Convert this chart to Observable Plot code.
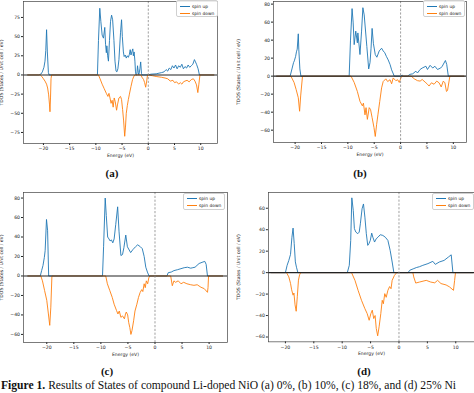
<!DOCTYPE html>
<html>
<head>
<meta charset="utf-8">
<script src="https://cdn.jsdelivr.net/npm/d3@7"></script>
<script src="https://cdn.jsdelivr.net/npm/@observablehq/plot@0.6"></script>
<style>
  body { margin: 0; background: #fff; }
  #fig { position: relative; width: 474px; height: 393px; overflow: hidden; background: #fff; }
  .panel { position: absolute; }
  .plab { position: absolute; font-family: "Liberation Serif", "DejaVu Serif", serif; font-weight: bold; font-size: 11px; color: #111; transform: translateX(-50%); }
  .leg { position: absolute; border: 0.6px solid #d0d0d0; border-radius: 2px; background: rgba(255,255,255,0.85); font-family: "DejaVu Sans", sans-serif; font-size: 4.4px; color: #222; }
  .leg div { position: absolute; white-space: nowrap; line-height: 5px; }
  .leg span.sw { position: absolute; height: 1.1px; width: 10px; }
  #cap { position: absolute; left: 1px; top: 379px; white-space: nowrap; font-family: "Liberation Serif", "DejaVu Serif", serif; font-size: 11.6px; line-height: 13px; color: #111; }
</style>
</head>
<body>
<div id="fig"></div>
<script>
// ---------- data (energy eV, TDOS) ----------
const xTicks = [-20, -15, -10, -5, 0, 5, 10];
const yTicksA = [-75, -50, -25, 0, 25, 50, 75];
const yTicksB = [-60, -40, -20, 0, 20, 40, 60, 80];
const yTicksC = [-60, -40, -20, 0, 20, 40, 60, 80];
const yTicksD = [-60, -40, -20, 0, 20, 40, 60];
const seriesNames = ["spin up", "spin down"];
const panelLabels = ["(a)", "(b)", "(c)", "(d)"];

const aUp = [[-23,0],[-20.9,0],[-20.5,1],[-20.2,4],[-19.9,10],[-19.7,18],[-19.55,32],[-19.4,59],[-19.25,30],[-19.05,3],[-18.9,0],
 [-9.7,0],[-9.5,45],[-9.25,87],[-9.05,70],[-8.8,52],[-8.55,48],[-8.3,62],[-8.15,40],[-8.0,29],[-7.9,38],[-7.75,25],[-7.6,18],[-7.4,45],[-7.2,70],[-7.0,78],[-6.8,72],[-6.55,45],[-6.35,18],[-6.15,5],[-6.0,4],[-5.8,8],[-5.6,20],[-5.3,55],[-5.1,72],[-4.95,50],[-4.75,30],[-4.6,24],[-4.4,26],[-4.2,22],[-4.0,25],[-3.8,23],[-3.6,27],[-3.45,33],[-3.3,26],[-3.1,31],[-2.95,34],[-2.85,25],[-2.7,30],[-2.55,18],[-2.45,5],[-2.35,0],[-2.2,0],[-2.05,12],[-1.9,3],[-1.8,0],[-1.6,8],[-1.45,17],[-1.3,2],[-1.2,0],
 [0,0],[0.5,1],[1.5,1.5],[2.5,3],[3.0,4],[3.4,7],[3.7,5],[4.0,9],[4.3,7],[4.6,12],[4.9,9],[5.2,13],[5.5,8],[5.8,12],[6.1,10],[6.4,14],[6.7,8],[7.0,11],[7.3,9],[7.6,13],[7.9,10],[8.2,12],[8.5,14],[8.8,20],[9.0,17],[9.2,14],[9.5,8],[9.75,0],[12.5,0]];
const aDn = [[-23,0],[-20.6,0],[-20.3,-2],[-20.0,-5],[-19.7,-8],[-19.4,-12],[-19.2,-17],[-19.0,-26],[-18.85,-38],[-18.75,-48],[-18.65,-30],[-18.55,-5],[-18.45,0],
 [-9.5,0],[-9.2,-5],[-8.8,-12],[-8.4,-18],[-8.0,-24],[-7.7,-28],[-7.5,-24],[-7.3,-30],[-7.1,-37],[-6.9,-33],[-6.7,-42],[-6.5,-30],[-6.3,-35],[-6.05,-46],[-5.85,-38],[-5.6,-30],[-5.3,-28],[-5.1,-32],[-4.9,-45],[-4.7,-60],[-4.5,-80],[-4.35,-68],[-4.2,-50],[-4.0,-40],[-3.8,-32],[-3.6,-25],[-3.3,-15],[-3.0,-6],[-2.7,-1],[-2.5,0],[-1.4,0],[-1.2,-3],[-0.9,-6],[-0.7,-10],[-0.5,-16],[-0.3,-8],[-0.15,0],
 [0,0],[0.8,-1],[1.5,-2],[2.5,-3],[3.2,-4],[3.7,-5],[4.2,-8],[4.7,-7],[5.0,-10],[5.4,-9],[5.8,-12],[6.1,-10],[6.4,-12],[6.7,-9],[7.0,-8],[7.4,-7],[7.8,-9],[8.2,-6],[8.6,-5],[8.9,-8],[9.2,-13],[9.45,-23],[9.65,-12],[9.85,0],[12.5,0]];

const bUp = [[-23.5,0],[-20.95,0],[-20.6,8],[-20.3,15],[-20.15,17],[-19.9,22],[-19.75,27],[-19.6,30],[-19.4,47],[-19.3,30],[-19.1,8],[-18.9,0],
 [-9.75,0],[-9.5,40],[-9.2,75],[-9.0,60],[-8.8,35],[-8.5,50],[-8.2,37],[-8.1,48],[-7.7,24],[-7.4,50],[-7.15,76],[-6.9,68],[-6.4,33],[-6.05,8],[-5.8,15],[-5.6,31],[-5.4,53],[-5.15,36],[-4.8,24],[-4.5,21],[-4.05,28],[-3.6,31],[-3.3,28],[-3.0,26],[-2.7,22],[-2.35,18],[-2.0,13],[-1.7,7],[-1.2,0],
 [0,0],[0.3,1],[0.6,0],[1.3,0],[1.8,2],[2.3,2.6],[2.9,5.5],[3.2,3.5],[3.7,7.4],[4.1,9],[4.8,11],[5.1,7.4],[5.6,12],[6.1,9],[6.5,11],[7.0,7.4],[7.6,9],[7.9,11],[8.5,17.4],[8.75,13],[9.05,0],[12,0]];
const bDn = [[-23.5,0],[-20.8,0],[-20.2,-7],[-19.8,-15],[-19.4,-24],[-19.15,-39],[-18.95,-22],[-18.6,0],
 [-9.4,0],[-8.8,-7],[-8.2,-17],[-7.7,-28],[-7.25,-33],[-7.05,-30],[-6.75,-43],[-6.55,-35],[-6.3,-48],[-5.95,-35],[-5.7,-37],[-5.4,-46],[-5.05,-57],[-4.8,-67],[-4.55,-54],[-4.3,-43],[-3.95,-28],[-3.6,-13],[-3.3,-6],[-2.8,-3],[-2.45,-6],[-2.0,-4],[-1.7,-8.5],[-1.4,-2],[-0.9,-5],[-0.55,-4],[-0.25,-7],[0.05,-2],[0.3,0],
 [2.0,0],[2.6,-3],[3.2,-5],[3.7,-5.5],[4.1,-3.7],[4.8,-7.4],[5.1,-9],[5.4,-11],[5.85,-7.4],[6.35,-9],[6.85,-5.5],[7.3,-7.4],[7.7,-12],[8.1,-5.5],[8.4,-7.4],[8.7,-17],[8.9,-16],[9.35,0],[12,0]];

const cUp = [[-23.5,0],[-21.2,0],[-20.95,5.5],[-20.7,10.7],[-20.45,19],[-20.3,26],[-20.05,58],[-19.85,47],[-19.65,0],
 [-9.7,0],[-9.5,30],[-9.2,80],[-9.0,62],[-8.75,40],[-8.5,38],[-8.3,36],[-8.05,37],[-7.8,34],[-7.55,38],[-7.25,53],[-6.9,71],[-6.65,46],[-6.3,21],[-6.0,22],[-5.75,29],[-5.4,42],[-5.1,30],[-4.5,24],[-4.1,27],[-3.6,30],[-3.2,32],[-2.7,30],[-2.35,28],[-2.0,20],[-1.7,9],[-1.4,4],[-1.1,0],
 [2.2,0],[2.45,3.4],[3.0,4],[3.5,5.5],[4.2,6.5],[4.8,7.5],[5.4,8.5],[6.0,9],[6.6,8],[7.0,8.5],[7.4,9],[8.15,12.8],[8.7,14],[9.2,15],[9.45,12],[9.7,0],[12.5,0]];
const cDn = [[-23.5,0],[-21.1,0],[-20.8,-5],[-20.4,-15],[-20.0,-25],[-19.7,-39],[-19.45,-50.7],[-19.25,-32],[-19.05,0],
 [-9.1,0],[-8.8,-8],[-8.35,-15],[-7.9,-22],[-7.55,-29],[-7.1,-35.6],[-6.85,-39],[-6.6,-36],[-6.3,-42.5],[-6.0,-41],[-5.65,-44],[-5.45,-39],[-5.3,-37],[-5.05,-40],[-4.85,-48],[-4.65,-53],[-4.45,-60],[-4.25,-56],[-3.95,-46],[-3.7,-36],[-3.35,-29],[-3.05,-22],[-2.75,-17],[-2.45,-14],[-2.25,-16],[-2.0,-8],[-1.8,-12],[-1.6,-5],[-1.35,-8],[-1.15,-2],[-0.95,0],
 [2.9,0],[3.2,-10],[3.5,-5],[3.8,-6.5],[4.3,-5],[4.8,-8],[5.3,-6.5],[5.9,-8],[6.6,-9],[7.2,-9.6],[7.8,-9],[8.5,-11.6],[9.1,-13],[9.7,-16.8],[9.8,-12],[9.9,0],[12.5,0]];

const dUp = [[-22.5,0],[-20.0,0],[-19.7,6.8],[-19.4,11.4],[-19.1,17],[-18.85,33],[-18.65,41.5],[-18.45,27],[-18.25,10],[-18.05,5],[-17.8,0],
 [-9.1,0],[-8.75,6.8],[-8.5,30],[-8.3,69.7],[-8.05,58],[-7.85,41],[-7.6,37.8],[-7.25,36.3],[-7.0,37.8],[-6.8,45.5],[-6.5,59.5],[-6.25,64],[-6.0,51.7],[-5.75,36.3],[-5.5,25.4],[-5.3,26.9],[-5.05,30],[-4.8,36.8],[-4.6,33],[-4.3,28.5],[-4.0,31.6],[-3.7,33],[-3.3,35.3],[-2.85,34.7],[-2.4,33],[-1.95,30],[-1.55,20.7],[-1.2,9.9],[-0.9,0],
 [1.6,0],[1.9,2.2],[2.5,3.5],[3.05,4.7],[3.6,5.5],[4.2,6.8],[5.1,8.4],[5.96,10.5],[6.4,7.7],[7.1,9.9],[7.95,11.4],[8.7,14.5],[9.2,16.6],[9.5,0],[13,0]];
const dDn = [[-22.5,0],[-19.8,0],[-19.4,-4],[-19.1,-10],[-18.9,-16],[-18.65,-21],[-18.5,-19],[-18.3,-30],[-18.1,-36],[-17.9,-22],[-17.7,-7],[-17.5,-2],[-17.3,0],
 [-8.35,0],[-7.75,-7.2],[-7.2,-16.5],[-6.6,-25.8],[-6.0,-33.6],[-5.6,-38.2],[-5.25,-44.4],[-4.95,-38.2],[-4.7,-35],[-4.45,-42.8],[-4.2,-40],[-4.0,-52],[-3.75,-58.9],[-3.5,-50.5],[-3.2,-38.2],[-2.95,-25.8],[-2.75,-29],[-2.5,-19.6],[-2.25,-23],[-1.95,-16.5],[-1.65,-13],[-1.4,-15],[-1.2,-7.2],[-0.8,-2.6],[-0.4,0],
 [2.45,0],[2.6,-4],[2.95,-9.7],[3.6,-8.8],[4.8,-7.2],[5.6,-8.8],[6.3,-9.5],[6.8,-7.2],[7.4,-10.2],[8.3,-11.5],[8.9,-13.3],[9.6,-16.5],[9.8,-7.2],[9.95,0],[13,0]];

const captionBold = "Figure 1.";
const captionText = " Results of States of compound Li-doped NiO (a) 0%, (b) 10%, (c) 18%, and (d) 25% Ni";

// ---------- layout ----------
const BLUE = "#1f77b4", ORANGE = "#ff7f0e";
const panels = [
  {up: aUp, dn: aDn, yt: yTicksA, left: 0,   top: 0,   width: 221, height: 166, ml: 23, mr: 4,  mt: 1, mb: 23, xd: [-23.8, 13.2], yd: [-89.4, 95.8], lab: [112, 167], leg: [176, 0]},
  {up: bUp, dn: bDn, yt: yTicksB, left: 237, top: 0,   width: 237, height: 166, ml: 36, mr: 8,  mt: 1, mb: 24, xd: [-24.1, 12.5], yd: [-73.7, 82.9], lab: [360, 167], leg: [423, 0]},
  {up: cUp, dn: cDn, yt: yTicksC, left: 0,   top: 186, width: 230, height: 176, ml: 23, mr: 3,  mt: 6, mb: 20, xd: [-24.3, 13.4], yd: [-68.3, 85.7], lab: [107, 365], leg: [183, 192.5]},
  {up: dUp, dn: dDn, yt: yTicksD, left: 237, top: 186, width: 238, height: 176, ml: 31, mr: 0,  mt: 6, mb: 20, xd: [-23.0, 13.3], yd: [-64.5, 74.7], lab: [364, 365], leg: [432, 192.5]}
];

const fig = document.getElementById("fig");

panels.forEach((p, i) => {
  const upRows = p.up.map(([e, v]) => ({e, v}));
  const dnRows = p.dn.map(([e, v]) => ({e, v}));
  const chart = Plot.plot({
    width: p.width, height: p.height,
    marginLeft: p.ml, marginRight: p.mr, marginTop: p.mt, marginBottom: p.mb,
    style: {fontFamily: "DejaVu Sans, sans-serif", fontSize: "4.6px", color: "#222", background: "transparent", overflow: "visible"},
    x: {domain: p.xd, ticks: xTicks, tickSize: 2, tickPadding: 1.5, label: "Energy (eV)", labelAnchor: "center", labelArrow: "none", labelOffset: 13},
    y: {domain: p.yd, ticks: p.yt, tickSize: 2, tickPadding: 1.5, label: "TDOS (States / Unit cell / eV)", labelAnchor: "center", labelArrow: "none", labelOffset: p.ml + 0.5},
    marks: [
      Plot.line(upRows, {x: "e", y: "v", stroke: BLUE, strokeWidth: 0.9}),
      Plot.line(dnRows, {x: "e", y: "v", stroke: ORANGE, strokeWidth: 0.9}),
      Plot.ruleY([0], {stroke: "#222", strokeWidth: 1.1}),
      Plot.ruleX([0], {stroke: "#888", strokeWidth: 0.8, strokeDasharray: "2.2,1.6"}),
      Plot.frame({stroke: "#444", strokeWidth: 0.7})
    ]
  });
  const wrap = document.createElement("div");
  wrap.className = "panel";
  wrap.style.left = p.left + "px";
  wrap.style.top = p.top + "px";
  wrap.appendChild(chart);
  fig.appendChild(wrap);

  const lab = document.createElement("div");
  lab.className = "plab";
  lab.style.left = p.lab[0] + "px";
  lab.style.top = p.lab[1] + "px";
  lab.textContent = panelLabels[i];
  fig.appendChild(lab);

  const leg = document.createElement("div");
  leg.className = "leg";
  leg.style.left = p.leg[0] + "px";
  leg.style.top = p.leg[1] + "px";
  leg.style.width = "40px";
  leg.style.height = "15px";
  [BLUE, ORANGE].forEach((c, k) => {
    const sw = document.createElement("span");
    sw.className = "sw";
    sw.style.background = c;
    sw.style.left = "2.5px";
    sw.style.top = (4.8 + k * 7) + "px";
    leg.appendChild(sw);
    const t = document.createElement("div");
    t.style.left = "15px";
    t.style.top = (2.8 + k * 7) + "px";
    t.textContent = seriesNames[k];
    leg.appendChild(t);
  });
  fig.appendChild(leg);
});

const cap = document.createElement("div");
cap.id = "cap";
const b = document.createElement("b");
b.textContent = captionBold;
cap.appendChild(b);
cap.appendChild(document.createTextNode(captionText));
fig.appendChild(cap);
</script>
</body>
</html>
